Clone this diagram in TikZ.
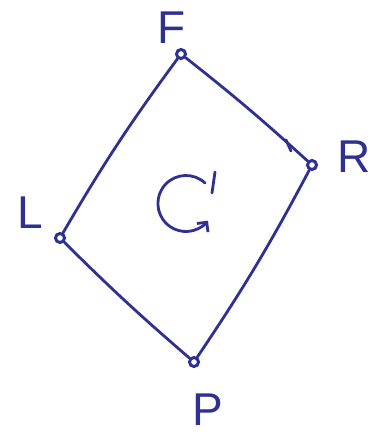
\documentclass[tikz,border=0pt]{standalone}
\usepackage{fontspec}
\setmainfont{Liberation Sans}
\usetikzlibrary{arrows.meta}
\definecolor{ink}{HTML}{2E3192}
\begin{document}
\begin{tikzpicture}[x=1pt,y=-1pt,
  pen/.style={draw=ink,line width=2.8pt,line cap=round,line join=round},
  vert/.style={circle,draw=ink,line width=3pt,inner sep=0pt,minimum size=9pt},
  lab/.style={text=ink,font=\fontsize{46}{46}\selectfont,inner sep=0pt}]
\useasboundingbox (0,0) rectangle (371,442);
\node[vert] (F) at (181,54) {};
\node[vert] (R) at (312,165) {};
\node[vert] (P) at (194,362) {};
\node[vert] (L) at (60,238) {};
\node[lab] (lF) at (172,28) {F};
\node[lab] (lR) at (354,157) {R};
\node[lab] (lL) at (30,213) {L};
\node[lab] (lP) at (208,410) {P};
\draw[pen] (F) to[bend right=3] (L);
\draw[pen] (F) to[bend left=2] (R);
\draw[pen] (R) to[bend left=3] (P);
\draw[pen] (L) to[bend right=2] (P);
\coordinate (t1) at (286,140);
\coordinate (t2) at (291,151);
\draw[pen] (t1) -- (t2);
\coordinate (c0) at (205,183);
\draw[pen,-{Straight Barb[length=7pt,width=14pt]}] (c0) arc[start angle=-47,end angle=-322,radius=28];
\coordinate (k1) at (215,172);
\coordinate (k2) at (212,193);
\draw[pen] (k1) -- (k2);
\end{tikzpicture}
\end{document}
